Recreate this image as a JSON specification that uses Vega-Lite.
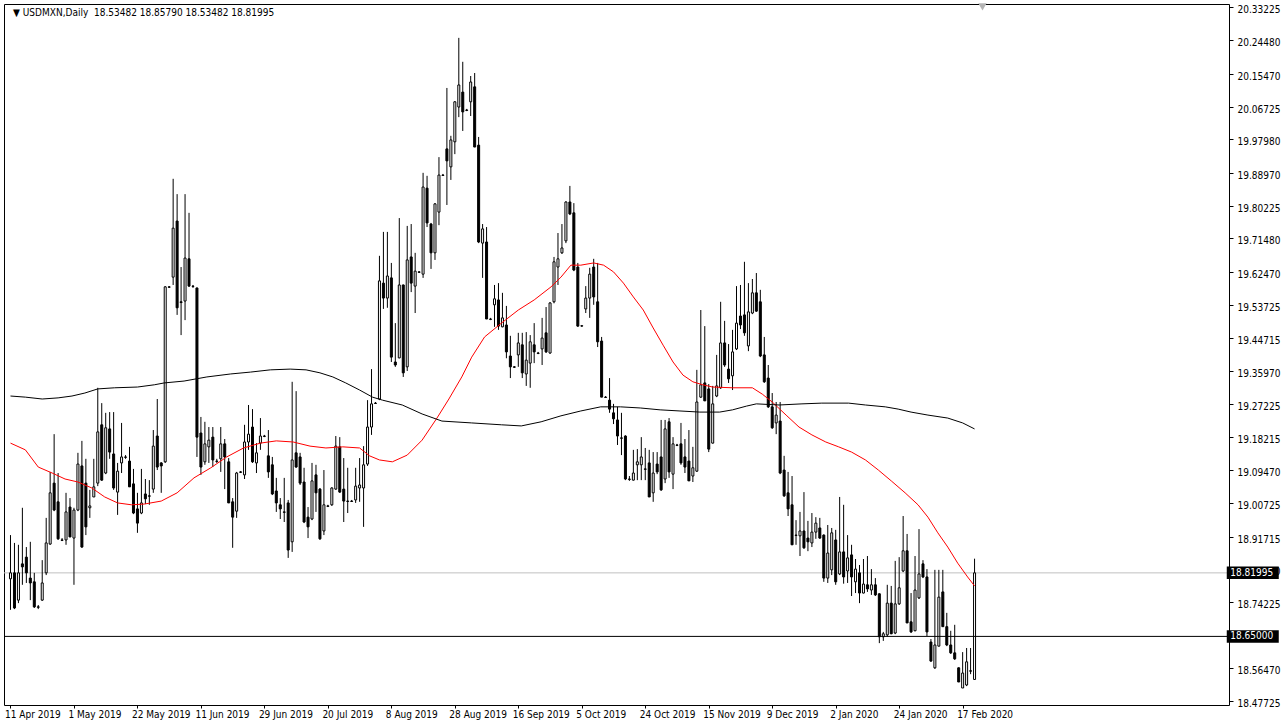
{
"$schema": "https://vega.github.io/schema/vega-lite/v6.json",
"width": 1225, "height": 701,
"autosize": {"type": "none"},
"padding": {"left": 4, "top": 4, "right": 56, "bottom": 23},
"background": "#ffffff",
"resolve": {"axis": {"x": "independent", "y": "independent"}},
"config": {
 "view": {"stroke": "#000000", "strokeWidth": 1},
 "axis": {"labelFont": "DejaVu Sans Condensed, DejaVu Sans", "labelFontSize": 10, "labelColor": "#000000", "tickColor": "#000000", "grid": false, "domain": false, "title": null},
 "text": {"font": "DejaVu Sans Condensed, DejaVu Sans", "fontSize": 10}
},
"datasets": {
 "c": [
{"i":0,"o":18.804,"h":18.921,"l":18.721,"c":18.820},
{"i":1,"o":18.820,"h":18.900,"l":18.723,"c":18.726},
{"i":2,"o":18.747,"h":18.895,"l":18.739,"c":18.820},
{"i":3,"o":18.844,"h":18.994,"l":18.788,"c":18.836},
{"i":4,"o":18.862,"h":18.889,"l":18.793,"c":18.820},
{"i":5,"o":18.806,"h":18.903,"l":18.747,"c":18.793},
{"i":6,"o":18.796,"h":18.820,"l":18.726,"c":18.729},
{"i":7,"o":18.729,"h":18.734,"l":18.723,"c":18.728},
{"i":8,"o":18.747,"h":18.854,"l":18.745,"c":18.793},
{"i":9,"o":18.820,"h":18.967,"l":18.814,"c":18.900},
{"i":10,"o":18.897,"h":19.090,"l":18.895,"c":19.034},
{"i":11,"o":19.060,"h":19.191,"l":18.985,"c":18.988},
{"i":12,"o":19.010,"h":19.087,"l":18.908,"c":18.911},
{"i":13,"o":18.908,"h":18.913,"l":18.905,"c":18.907},
{"i":14,"o":18.908,"h":19.034,"l":18.895,"c":18.983},
{"i":15,"o":18.996,"h":19.020,"l":18.916,"c":18.916},
{"i":16,"o":18.913,"h":18.994,"l":18.788,"c":18.988},
{"i":17,"o":18.988,"h":19.141,"l":18.985,"c":19.111},
{"i":18,"o":19.106,"h":19.173,"l":18.887,"c":18.889},
{"i":19,"o":19.060,"h":19.125,"l":18.921,"c":18.943},
{"i":20,"o":18.994,"h":19.042,"l":18.967,"c":18.999},
{"i":21,"o":19.023,"h":19.125,"l":19.023,"c":19.050},
{"i":22,"o":19.060,"h":19.315,"l":19.052,"c":19.197},
{"i":23,"o":19.216,"h":19.274,"l":19.066,"c":19.068},
{"i":24,"o":19.087,"h":19.248,"l":19.084,"c":19.208},
{"i":25,"o":19.205,"h":19.250,"l":19.125,"c":19.143},
{"i":26,"o":19.138,"h":19.250,"l":19.042,"c":19.047},
{"i":27,"o":19.036,"h":19.114,"l":18.975,"c":19.092},
{"i":28,"o":19.114,"h":19.221,"l":19.087,"c":19.130},
{"i":29,"o":19.130,"h":19.135,"l":19.125,"c":19.129},
{"i":30,"o":19.119,"h":19.157,"l":19.050,"c":19.050},
{"i":31,"o":19.058,"h":19.098,"l":18.977,"c":18.980},
{"i":32,"o":18.991,"h":19.034,"l":18.927,"c":18.953},
{"i":33,"o":18.980,"h":19.098,"l":18.977,"c":19.007},
{"i":34,"o":19.031,"h":19.071,"l":19.004,"c":19.018},
{"i":35,"o":19.026,"h":19.068,"l":19.002,"c":19.025},
{"i":36,"o":19.044,"h":19.202,"l":19.034,"c":19.159},
{"i":37,"o":19.186,"h":19.285,"l":19.095,"c":19.103},
{"i":38,"o":19.114,"h":19.116,"l":19.034,"c":19.106},
{"i":39,"o":19.117,"h":19.587,"l":19.114,"c":19.585},
{"i":40,"o":19.585,"h":19.587,"l":19.582,"c":19.584},
{"i":41,"o":19.611,"h":19.874,"l":19.590,"c":19.742},
{"i":42,"o":19.761,"h":19.833,"l":19.510,"c":19.529},
{"i":43,"o":19.545,"h":19.638,"l":19.456,"c":19.543},
{"i":44,"o":19.547,"h":19.833,"l":19.496,"c":19.662},
{"i":45,"o":19.660,"h":19.783,"l":19.585,"c":19.587},
{"i":46,"o":19.587,"h":19.590,"l":19.582,"c":19.586},
{"i":47,"o":19.582,"h":19.583,"l":19.130,"c":19.183},
{"i":48,"o":19.194,"h":19.237,"l":19.082,"c":19.103},
{"i":49,"o":19.117,"h":19.224,"l":19.109,"c":19.165},
{"i":50,"o":19.157,"h":19.210,"l":19.114,"c":19.175},
{"i":51,"o":19.183,"h":19.210,"l":19.103,"c":19.122},
{"i":52,"o":19.119,"h":19.125,"l":19.114,"c":19.118},
{"i":53,"o":19.125,"h":19.210,"l":19.090,"c":19.165},
{"i":54,"o":19.165,"h":19.178,"l":19.044,"c":19.130},
{"i":55,"o":19.117,"h":19.127,"l":19.007,"c":19.007},
{"i":56,"o":19.010,"h":19.020,"l":18.887,"c":18.969},
{"i":57,"o":18.985,"h":19.090,"l":18.967,"c":19.087},
{"i":58,"o":19.090,"h":19.092,"l":19.087,"c":19.089},
{"i":59,"o":19.082,"h":19.216,"l":19.071,"c":19.170},
{"i":60,"o":19.170,"h":19.269,"l":19.149,"c":19.191},
{"i":61,"o":19.210,"h":19.258,"l":19.114,"c":19.117},
{"i":62,"o":19.114,"h":19.167,"l":19.087,"c":19.141},
{"i":63,"o":19.167,"h":19.234,"l":19.149,"c":19.186},
{"i":64,"o":19.186,"h":19.189,"l":19.183,"c":19.185},
{"i":65,"o":19.133,"h":19.202,"l":19.074,"c":19.090},
{"i":66,"o":19.109,"h":19.130,"l":19.028,"c":19.031},
{"i":67,"o":19.039,"h":19.074,"l":18.983,"c":19.007},
{"i":68,"o":19.002,"h":19.020,"l":18.964,"c":18.991},
{"i":69,"o":18.983,"h":19.074,"l":18.956,"c":18.982},
{"i":70,"o":19.007,"h":19.015,"l":18.860,"c":18.881},
{"i":71,"o":18.903,"h":19.331,"l":18.876,"c":19.122},
{"i":72,"o":19.141,"h":19.306,"l":19.101,"c":19.103},
{"i":73,"o":19.130,"h":19.141,"l":19.055,"c":19.060},
{"i":74,"o":19.063,"h":19.101,"l":18.953,"c":18.956},
{"i":75,"o":18.969,"h":18.996,"l":18.913,"c":18.943},
{"i":76,"o":18.964,"h":19.114,"l":18.961,"c":19.066},
{"i":77,"o":19.082,"h":19.109,"l":18.983,"c":19.034},
{"i":78,"o":19.044,"h":19.047,"l":18.908,"c":18.911},
{"i":79,"o":18.932,"h":19.095,"l":18.921,"c":19.002},
{"i":80,"o":18.999,"h":19.002,"l":18.996,"c":18.998},
{"i":81,"o":19.002,"h":19.049,"l":18.999,"c":19.047},
{"i":82,"o":19.044,"h":19.186,"l":19.042,"c":19.159},
{"i":83,"o":19.157,"h":19.183,"l":19.034,"c":19.036},
{"i":84,"o":19.044,"h":19.127,"l":18.956,"c":19.012},
{"i":85,"o":19.012,"h":19.101,"l":18.980,"c":19.011},
{"i":86,"o":19.012,"h":19.015,"l":19.010,"c":19.011},
{"i":87,"o":19.015,"h":19.101,"l":19.007,"c":19.052},
{"i":88,"o":19.047,"h":19.127,"l":19.010,"c":19.055},
{"i":89,"o":19.047,"h":19.159,"l":18.943,"c":19.109},
{"i":90,"o":19.111,"h":19.282,"l":19.106,"c":19.210},
{"i":91,"o":19.210,"h":19.365,"l":19.189,"c":19.272},
{"i":92,"o":19.274,"h":19.277,"l":19.272,"c":19.273},
{"i":93,"o":19.285,"h":19.668,"l":19.282,"c":19.601},
{"i":94,"o":19.595,"h":19.732,"l":19.526,"c":19.555},
{"i":95,"o":19.555,"h":19.732,"l":19.529,"c":19.614},
{"i":96,"o":19.609,"h":19.649,"l":19.384,"c":19.397},
{"i":97,"o":19.384,"h":19.488,"l":19.371,"c":19.376},
{"i":98,"o":19.395,"h":19.769,"l":19.394,"c":19.590},
{"i":99,"o":19.590,"h":19.591,"l":19.344,"c":19.355},
{"i":100,"o":19.371,"h":19.748,"l":19.360,"c":19.657},
{"i":101,"o":19.665,"h":19.753,"l":19.571,"c":19.595},
{"i":102,"o":19.587,"h":19.676,"l":19.515,"c":19.627},
{"i":103,"o":19.625,"h":19.627,"l":19.622,"c":19.624},
{"i":104,"o":19.619,"h":19.890,"l":19.609,"c":19.852},
{"i":105,"o":19.849,"h":19.882,"l":19.745,"c":19.756},
{"i":106,"o":19.753,"h":19.756,"l":19.633,"c":19.676},
{"i":107,"o":19.676,"h":19.809,"l":19.657,"c":19.807},
{"i":108,"o":19.785,"h":19.932,"l":19.750,"c":19.884},
{"i":109,"o":19.884,"h":19.887,"l":19.882,"c":19.883},
{"i":110,"o":19.954,"h":20.117,"l":19.804,"c":19.922},
{"i":111,"o":19.906,"h":19.989,"l":19.871,"c":19.978},
{"i":112,"o":19.973,"h":20.082,"l":19.940,"c":20.080},
{"i":113,"o":20.066,"h":20.251,"l":20.039,"c":20.125},
{"i":114,"o":20.106,"h":20.187,"l":20.002,"c":20.053},
{"i":115,"o":20.058,"h":20.061,"l":20.055,"c":20.057},
{"i":116,"o":20.080,"h":20.149,"l":20.042,"c":20.133},
{"i":117,"o":20.120,"h":20.157,"l":19.959,"c":19.959},
{"i":118,"o":19.964,"h":19.986,"l":19.702,"c":19.705},
{"i":119,"o":19.702,"h":19.753,"l":19.609,"c":19.740},
{"i":120,"o":19.705,"h":19.745,"l":19.499,"c":19.499},
{"i":121,"o":19.499,"h":19.502,"l":19.496,"c":19.498},
{"i":122,"o":19.537,"h":19.590,"l":19.478,"c":19.553},
{"i":123,"o":19.550,"h":19.595,"l":19.470,"c":19.480},
{"i":124,"o":19.478,"h":19.569,"l":19.477,"c":19.502},
{"i":125,"o":19.483,"h":19.534,"l":19.394,"c":19.411},
{"i":126,"o":19.400,"h":19.454,"l":19.341,"c":19.371},
{"i":127,"o":19.371,"h":19.373,"l":19.368,"c":19.370},
{"i":128,"o":19.403,"h":19.462,"l":19.371,"c":19.435},
{"i":129,"o":19.430,"h":19.462,"l":19.341,"c":19.355},
{"i":130,"o":19.352,"h":19.464,"l":19.320,"c":19.389},
{"i":131,"o":19.381,"h":19.456,"l":19.315,"c":19.438},
{"i":132,"o":19.430,"h":19.488,"l":19.381,"c":19.411},
{"i":133,"o":19.408,"h":19.411,"l":19.405,"c":19.407},
{"i":134,"o":19.419,"h":19.502,"l":19.376,"c":19.448},
{"i":135,"o":19.462,"h":19.531,"l":19.408,"c":19.411},
{"i":136,"o":19.408,"h":19.544,"l":19.406,"c":19.542},
{"i":137,"o":19.545,"h":19.665,"l":19.541,"c":19.652},
{"i":138,"o":19.638,"h":19.729,"l":19.590,"c":19.660},
{"i":139,"o":19.676,"h":19.753,"l":19.673,"c":19.689},
{"i":140,"o":19.708,"h":19.814,"l":19.702,"c":19.812},
{"i":141,"o":19.812,"h":19.855,"l":19.777,"c":19.780},
{"i":142,"o":19.783,"h":19.809,"l":19.627,"c":19.630},
{"i":143,"o":19.638,"h":19.649,"l":19.478,"c":19.480},
{"i":144,"o":19.480,"h":19.483,"l":19.478,"c":19.481},
{"i":145,"o":19.526,"h":19.587,"l":19.515,"c":19.555},
{"i":146,"o":19.555,"h":19.636,"l":19.502,"c":19.619},
{"i":147,"o":19.638,"h":19.660,"l":19.537,"c":19.558},
{"i":148,"o":19.545,"h":19.649,"l":19.424,"c":19.438},
{"i":149,"o":19.440,"h":19.451,"l":19.290,"c":19.290},
{"i":150,"o":19.290,"h":19.293,"l":19.288,"c":19.289},
{"i":151,"o":19.282,"h":19.341,"l":19.248,"c":19.258},
{"i":152,"o":19.248,"h":19.272,"l":19.218,"c":19.232},
{"i":153,"o":19.229,"h":19.264,"l":19.162,"c":19.186},
{"i":154,"o":19.181,"h":19.248,"l":19.135,"c":19.180},
{"i":155,"o":19.186,"h":19.188,"l":19.068,"c":19.071},
{"i":156,"o":19.071,"h":19.079,"l":19.066,"c":19.070},
{"i":157,"o":19.068,"h":19.149,"l":19.067,"c":19.087},
{"i":158,"o":19.109,"h":19.151,"l":19.068,"c":19.117},
{"i":159,"o":19.109,"h":19.183,"l":19.068,"c":19.130},
{"i":160,"o":19.098,"h":19.154,"l":19.068,"c":19.097},
{"i":161,"o":19.114,"h":19.149,"l":19.023,"c":19.023},
{"i":162,"o":19.034,"h":19.143,"l":19.010,"c":19.087},
{"i":163,"o":19.111,"h":19.143,"l":19.084,"c":19.090},
{"i":164,"o":19.130,"h":19.229,"l":19.039,"c":19.042},
{"i":165,"o":19.071,"h":19.229,"l":19.060,"c":19.205},
{"i":166,"o":19.224,"h":19.234,"l":19.074,"c":19.090},
{"i":167,"o":19.084,"h":19.183,"l":19.044,"c":19.165},
{"i":168,"o":19.162,"h":19.165,"l":19.159,"c":19.161},
{"i":169,"o":19.165,"h":19.221,"l":19.109,"c":19.114},
{"i":170,"o":19.130,"h":19.178,"l":19.087,"c":19.103},
{"i":171,"o":19.119,"h":19.202,"l":19.066,"c":19.066},
{"i":172,"o":19.079,"h":19.157,"l":19.063,"c":19.101},
{"i":173,"o":19.092,"h":19.363,"l":19.090,"c":19.277},
{"i":174,"o":19.290,"h":19.523,"l":19.288,"c":19.323},
{"i":175,"o":19.328,"h":19.480,"l":19.280,"c":19.280},
{"i":176,"o":19.312,"h":19.325,"l":19.143,"c":19.151},
{"i":177,"o":19.167,"h":19.320,"l":19.166,"c":19.272},
{"i":178,"o":19.293,"h":19.403,"l":19.290,"c":19.320},
{"i":179,"o":19.315,"h":19.545,"l":19.312,"c":19.435},
{"i":180,"o":19.435,"h":19.494,"l":19.371,"c":19.376},
{"i":181,"o":19.365,"h":19.432,"l":19.328,"c":19.339},
{"i":182,"o":19.347,"h":19.470,"l":19.309,"c":19.411},
{"i":183,"o":19.419,"h":19.587,"l":19.416,"c":19.488},
{"i":184,"o":19.507,"h":19.590,"l":19.472,"c":19.483},
{"i":185,"o":19.510,"h":19.652,"l":19.454,"c":19.462},
{"i":186,"o":19.427,"h":19.595,"l":19.413,"c":19.518},
{"i":187,"o":19.515,"h":19.606,"l":19.512,"c":19.569},
{"i":188,"o":19.569,"h":19.622,"l":19.518,"c":19.520},
{"i":189,"o":19.545,"h":19.577,"l":19.397,"c":19.400},
{"i":190,"o":19.403,"h":19.451,"l":19.328,"c":19.331},
{"i":191,"o":19.341,"h":19.376,"l":19.261,"c":19.264},
{"i":192,"o":19.264,"h":19.301,"l":19.205,"c":19.208},
{"i":193,"o":19.221,"h":19.277,"l":19.191,"c":19.242},
{"i":194,"o":19.226,"h":19.277,"l":19.084,"c":19.087},
{"i":195,"o":19.095,"h":19.133,"l":19.023,"c":19.026},
{"i":196,"o":19.034,"h":19.090,"l":18.972,"c":18.991},
{"i":197,"o":19.002,"h":19.079,"l":18.895,"c":18.895},
{"i":198,"o":18.921,"h":18.961,"l":18.895,"c":18.920},
{"i":199,"o":18.919,"h":18.983,"l":18.865,"c":18.932},
{"i":200,"o":18.932,"h":19.036,"l":18.884,"c":18.887},
{"i":201,"o":18.913,"h":18.959,"l":18.878,"c":18.903},
{"i":202,"o":18.900,"h":18.980,"l":18.889,"c":18.929},
{"i":203,"o":18.929,"h":18.969,"l":18.911,"c":18.953},
{"i":204,"o":18.940,"h":18.967,"l":18.911,"c":18.913},
{"i":205,"o":18.921,"h":18.923,"l":18.796,"c":18.806},
{"i":206,"o":18.806,"h":18.948,"l":18.793,"c":18.873},
{"i":207,"o":18.828,"h":18.940,"l":18.814,"c":18.927},
{"i":208,"o":18.908,"h":18.935,"l":18.788,"c":18.796},
{"i":209,"o":18.817,"h":19.023,"l":18.814,"c":18.876},
{"i":210,"o":18.876,"h":19.002,"l":18.791,"c":18.809},
{"i":211,"o":18.825,"h":18.921,"l":18.793,"c":18.860},
{"i":212,"o":18.868,"h":18.895,"l":18.758,"c":18.809},
{"i":213,"o":18.796,"h":18.857,"l":18.766,"c":18.830},
{"i":214,"o":18.820,"h":18.841,"l":18.739,"c":18.766},
{"i":215,"o":18.766,"h":18.857,"l":18.765,"c":18.790},
{"i":216,"o":18.788,"h":18.865,"l":18.769,"c":18.777},
{"i":217,"o":18.774,"h":18.830,"l":18.761,"c":18.788},
{"i":218,"o":18.788,"h":18.806,"l":18.758,"c":18.761},
{"i":219,"o":18.764,"h":18.765,"l":18.632,"c":18.649},
{"i":220,"o":18.649,"h":18.662,"l":18.638,"c":18.657},
{"i":221,"o":18.654,"h":18.788,"l":18.649,"c":18.739},
{"i":222,"o":18.739,"h":18.785,"l":18.656,"c":18.657},
{"i":223,"o":18.659,"h":18.852,"l":18.656,"c":18.737},
{"i":224,"o":18.737,"h":18.862,"l":18.734,"c":18.780},
{"i":225,"o":18.825,"h":18.972,"l":18.822,"c":18.879},
{"i":226,"o":18.879,"h":18.924,"l":18.686,"c":18.686},
{"i":227,"o":18.689,"h":18.766,"l":18.659,"c":18.662},
{"i":228,"o":18.665,"h":18.865,"l":18.664,"c":18.774},
{"i":229,"o":18.753,"h":18.937,"l":18.750,"c":18.817},
{"i":230,"o":18.844,"h":18.854,"l":18.806,"c":18.809},
{"i":231,"o":18.809,"h":18.830,"l":18.651,"c":18.662},
{"i":232,"o":18.635,"h":18.643,"l":18.582,"c":18.584},
{"i":233,"o":18.566,"h":18.828,"l":18.563,"c":18.627},
{"i":234,"o":18.624,"h":18.828,"l":18.623,"c":18.755},
{"i":235,"o":18.769,"h":18.828,"l":18.676,"c":18.676},
{"i":236,"o":18.676,"h":18.713,"l":18.624,"c":18.627},
{"i":237,"o":18.627,"h":18.665,"l":18.603,"c":18.606},
{"i":238,"o":18.606,"h":18.681,"l":18.587,"c":18.590},
{"i":239,"o":18.566,"h":18.567,"l":18.528,"c":18.528},
{"i":240,"o":18.512,"h":18.608,"l":18.512,"c":18.552},
{"i":241,"o":18.520,"h":18.619,"l":18.517,"c":18.582},
{"i":242,"o":18.558,"h":18.619,"l":18.549,"c":18.557},
{"i":243,"o":18.53482,"h":18.85790,"l":18.53482,"c":18.81995}
 ],
 "red": [
{"i":0,"v":19.167},{"i":3.75,"v":19.149},{"i":7,"v":19.103},{"i":10.5,"v":19.087},{"i":13.75,"v":19.071},{"i":17,"v":19.063},{"i":20.5,"v":19.047},{"i":23.75,"v":19.023},{"i":27,"v":19.007},{"i":30.5,"v":19.002},{"i":33.75,"v":19.004},{"i":38,"v":19.012},{"i":42,"v":19.034},{"i":46.25,"v":19.074},{"i":50.5,"v":19.101},{"i":54.5,"v":19.130},{"i":58.75,"v":19.154},{"i":63,"v":19.167},{"i":67,"v":19.173},{"i":71.25,"v":19.170},{"i":75.5,"v":19.159},{"i":79.5,"v":19.154},{"i":83.75,"v":19.157},{"i":88,"v":19.154},{"i":90.5,"v":19.133},{"i":93,"v":19.122},{"i":96.25,"v":19.117},{"i":100,"v":19.135},{"i":103.75,"v":19.175},{"i":107.5,"v":19.234},{"i":110.5,"v":19.285},{"i":113.75,"v":19.344},{"i":116.25,"v":19.397},{"i":119.5,"v":19.451},{"i":123.75,"v":19.488},{"i":128,"v":19.523},{"i":132,"v":19.550},{"i":136.25,"v":19.585},{"i":138.75,"v":19.611},{"i":141.25,"v":19.643},{"i":143.75,"v":19.643},{"i":147,"v":19.649},{"i":149.5,"v":19.643},{"i":152,"v":19.625},{"i":154.5,"v":19.595},{"i":157,"v":19.558},{"i":159.5,"v":19.523},{"i":162,"v":19.475},{"i":164.5,"v":19.429},{"i":167,"v":19.384},{"i":169.5,"v":19.349},{"i":172,"v":19.331},{"i":174.5,"v":19.323},{"i":177,"v":19.317},{"i":182,"v":19.315},{"i":187,"v":19.315},{"i":189.5,"v":19.298},{"i":192,"v":19.277},{"i":195.5,"v":19.242},{"i":198.75,"v":19.210},{"i":202,"v":19.189},{"i":205.5,"v":19.170},{"i":208.75,"v":19.157},{"i":212,"v":19.143},{"i":215.5,"v":19.122},{"i":218.75,"v":19.095},{"i":222,"v":19.066},{"i":225.5,"v":19.034},{"i":228.75,"v":19.002},{"i":231.25,"v":18.969},{"i":233.75,"v":18.927},{"i":236.25,"v":18.889},{"i":238.75,"v":18.846},{"i":241.25,"v":18.809},{"i":243,"v":18.785}
 ],
 "blk": [
{"i":0,"v":19.293},{"i":3.75,"v":19.290},{"i":8,"v":19.285},{"i":12,"v":19.288},{"i":15.5,"v":19.293},{"i":18.75,"v":19.301},{"i":22,"v":19.312},{"i":26.25,"v":19.315},{"i":32,"v":19.317},{"i":36.25,"v":19.323},{"i":38.75,"v":19.328},{"i":43.75,"v":19.333},{"i":49.5,"v":19.344},{"i":55.5,"v":19.352},{"i":60.5,"v":19.357},{"i":65.5,"v":19.363},{"i":70.5,"v":19.365},{"i":74.5,"v":19.363},{"i":78,"v":19.355},{"i":81.25,"v":19.344},{"i":84.5,"v":19.328},{"i":88,"v":19.309},{"i":91.25,"v":19.290},{"i":93.75,"v":19.282},{"i":98.75,"v":19.269},{"i":103.75,"v":19.245},{"i":108.75,"v":19.226},{"i":116.25,"v":19.221},{"i":123.75,"v":19.216},{"i":128.75,"v":19.213},{"i":133.75,"v":19.224},{"i":138.75,"v":19.240},{"i":143.75,"v":19.253},{"i":148.75,"v":19.264},{"i":153.75,"v":19.264},{"i":158.75,"v":19.261},{"i":163.75,"v":19.256},{"i":168.75,"v":19.253},{"i":173.75,"v":19.250},{"i":178.75,"v":19.250},{"i":182,"v":19.256},{"i":185.5,"v":19.266},{"i":188,"v":19.272},{"i":193.75,"v":19.269},{"i":199.5,"v":19.272},{"i":204.5,"v":19.274},{"i":211.25,"v":19.274},{"i":215.5,"v":19.269},{"i":220.5,"v":19.264},{"i":223.75,"v":19.258},{"i":227,"v":19.250},{"i":231.25,"v":19.242},{"i":236.25,"v":19.234},{"i":240,"v":19.221},{"i":243,"v":19.205}
 ],
 "lv": [
{"p":18.81995,"t":"18.81995"},
{"p":18.65,"t":"18.65000"}
 ]
},
"layer": [
{"data": {"values": [{"p": 18.81995}]},
 "mark": {"type": "rule", "color": "#c0c0c0", "strokeWidth": 1},
 "encoding": {"y": {"field": "p", "type": "quantitative", "scale": {"domain": [18.4665, 20.3416], "nice": false, "zero": false}, "axis": null}}},
{"data": {"name": "c"},
 "mark": {"type": "rule", "color": "#000000", "strokeWidth": 1},
 "encoding": {
  "x": {"field": "i", "type": "quantitative", "scale": {"domain": [-0.375, 305.875], "nice": false, "zero": false},
        "axis": {"orient": "bottom", "values": [0,16,32,48,64,80,96,112,128,144,160,176,192,208,224,240],
                 "labelExpr": "['11 Apr 2019','1 May 2019','22 May 2019','11 Jun 2019','29 Jun 2019','20 Jul 2019','8 Aug 2019','28 Aug 2019','16 Sep 2019','5 Oct 2019','24 Oct 2019','15 Nov 2019','9 Dec 2019','2 Jan 2020','24 Jan 2020','17 Feb 2020'][round(datum.value/16)]",
                 "labelAlign": "left", "labelOffset": -6, "labelBaseline": "top", "tickSize": 3, "labelPadding": 1, "labelFlush": false, "labelOverlap": false}},
  "y": {"field": "l", "type": "quantitative", "scale": {"domain": [18.4665, 20.3416], "nice": false, "zero": false},
        "axis": {"orient": "right", "values": [20.33225,20.2448,20.1547,20.06725,19.9798,19.8897,19.80225,19.7148,19.6247,19.53725,19.44715,19.3597,19.27225,19.18215,19.0947,19.00725,18.91715,18.8297,18.74225,18.5647,18.47725],
                 "format": ".5f", "tickSize": 4, "labelPadding": 4, "labelAlign": "left", "labelBaseline": "middle", "labelOffset": 2.5, "labelFlush": false, "labelOverlap": false}},
  "y2": {"field": "h"}}},
{"data": {"name": "c"},
 "mark": {"type": "bar", "width": 2, "stroke": "#000000", "strokeWidth": 1},
 "encoding": {
  "x": {"field": "i", "type": "quantitative", "scale": {"domain": [-0.375, 305.875], "nice": false, "zero": false}, "axis": null},
  "y": {"field": "o", "type": "quantitative", "scale": {"domain": [18.4665, 20.3416], "nice": false, "zero": false}, "axis": null},
  "y2": {"field": "c"},
  "fill": {"condition": {"test": "datum.c > datum.o", "value": "#ffffff"}, "value": "#000000"}}},
{"data": {"name": "red"},
 "mark": {"type": "line", "color": "#ff0000", "strokeWidth": 1},
 "encoding": {
  "x": {"field": "i", "type": "quantitative", "scale": {"domain": [-0.375, 305.875], "nice": false, "zero": false}, "axis": null},
  "y": {"field": "v", "type": "quantitative", "scale": {"domain": [18.4665, 20.3416], "nice": false, "zero": false}, "axis": null}}},
{"data": {"name": "blk"},
 "mark": {"type": "line", "color": "#000000", "strokeWidth": 1},
 "encoding": {
  "x": {"field": "i", "type": "quantitative", "scale": {"domain": [-0.375, 305.875], "nice": false, "zero": false}, "axis": null},
  "y": {"field": "v", "type": "quantitative", "scale": {"domain": [18.4665, 20.3416], "nice": false, "zero": false}, "axis": null}}},
{"data": {"values": [{"p": 18.65}]},
 "mark": {"type": "rule", "color": "#000000", "strokeWidth": 1},
 "encoding": {"y": {"field": "p", "type": "quantitative", "scale": {"domain": [18.4665, 20.3416], "nice": false, "zero": false}, "axis": null}}},
{"data": {"values": [{"t": "▼ USDMXN,Daily\u00a0\u00a018.53482 18.85790 18.53482 18.81995"}]},
 "mark": {"type": "text", "align": "left", "baseline": "middle", "color": "#000000", "fontSize": 10},
 "encoding": {
  "x": {"datum": 0.625, "type": "quantitative", "scale": {"domain": [-0.375, 305.875], "nice": false, "zero": false}, "axis": null},
  "y": {"datum": 20.3175, "type": "quantitative", "scale": {"domain": [18.4665, 20.3416], "nice": false, "zero": false}, "axis": null},
  "text": {"field": "t"}}},
{"data": {"values": [{"k": "shift"}]},
 "mark": {"type": "point", "shape": "triangle-down", "size": 70, "filled": true, "color": "#b4b4b4", "opacity": 1, "clip": false},
 "encoding": {
  "x": {"datum": 245, "type": "quantitative", "scale": {"domain": [-0.375, 305.875], "nice": false, "zero": false}, "axis": null},
  "y": {"datum": 20.334, "type": "quantitative", "scale": {"domain": [18.4665, 20.3416], "nice": false, "zero": false}, "axis": null}}},
{"data": {"name": "lv"},
 "mark": {"type": "point", "shape": "M-1,-0.24H1V0.24H-1Z", "size": 2704, "filled": true, "color": "#000000", "opacity": 1, "clip": false},
 "encoding": {
  "x": {"datum": 313.125, "type": "quantitative", "scale": {"domain": [-0.375, 305.875], "nice": false, "zero": false}, "axis": null},
  "y": {"field": "p", "type": "quantitative", "scale": {"domain": [18.4665, 20.3416], "nice": false, "zero": false}, "axis": null}}},
{"data": {"name": "lv"},
 "mark": {"type": "text", "align": "center", "baseline": "middle", "color": "#ffffff", "fontSize": 10, "clip": false},
 "encoding": {
  "x": {"datum": 312.875, "type": "quantitative", "scale": {"domain": [-0.375, 305.875], "nice": false, "zero": false}, "axis": null},
  "y": {"field": "p", "type": "quantitative", "scale": {"domain": [18.4665, 20.3416], "nice": false, "zero": false}, "axis": null},
  "text": {"field": "t"}}}
]
}
